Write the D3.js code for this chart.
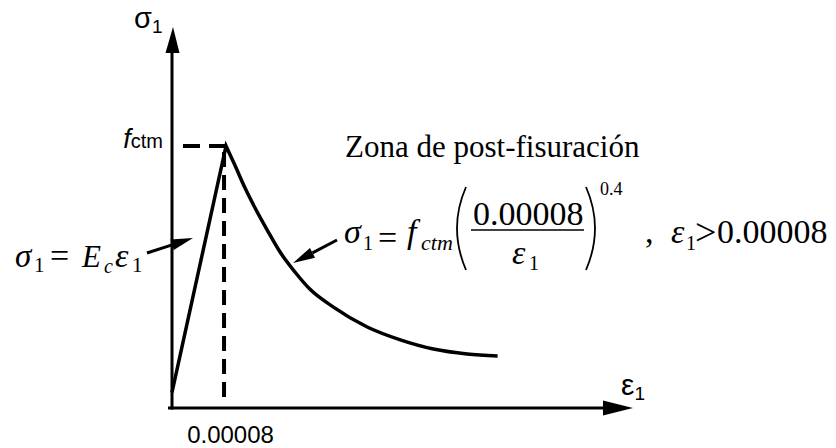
<!DOCTYPE html>
<html>
<head>
<meta charset="utf-8">
<script src="https://cdn.jsdelivr.net/npm/d3@7"></script>
<style>
  html, body { margin: 0; padding: 0; background: #fff; }
  svg { display: block; }
</style>
</head>
<body>
<script>
// Uniaxial tensile stress–strain law for concrete:
// linear branch up to the cracking strain, then post-cracking softening.
// Stresses are given as a fraction of fctm.
const crackStrain = 0.00008;

const risingStrain = [0, 0.00008];
const risingStress = [0.06, 1.0];

const softeningStrain = [0.00008, 0.000093, 0.000108, 0.000123, 0.000141, 0.00016,
  0.000182, 0.000204, 0.000239, 0.000289, 0.000338, 0.000387, 0.000437, 0.000482];
const softeningStress = [1.0, 0.927, 0.84, 0.763, 0.679, 0.595,
  0.519, 0.454, 0.385, 0.309, 0.26, 0.225, 0.206, 0.198];

const strainTicks = [0.00008];
const strainTickLabels = ["0.00008"];
const stressTicks = [1];

const strainMax = 0.000681;
const stressMax = 1.45;

const W = 836, H = 448;
const SANS = "'Liberation Sans', Arial, sans-serif";
const SERIF = "'Liberation Serif', 'Times New Roman', serif";

const svg = d3.select("body").append("svg")
  .attr("width", W).attr("height", H)
  .attr("viewBox", `0 0 ${W} ${H}`);

const x = d3.scaleLinear().domain([0, strainMax]).range([172, 632]);
const y = d3.scaleLinear().domain([0, stressMax]).range([408, 28]);

// ---- reference dashed lines at the cracking point ----
svg.append("line")
  .attr("x1", x(0) + 11).attr("x2", x(crackStrain))
  .attr("y1", y(1)).attr("y2", y(1))
  .attr("stroke", "#000").attr("stroke-width", 4)
  .attr("stroke-dasharray", "17,9");

svg.append("line")
  .attr("x1", x(crackStrain) - 2).attr("x2", x(crackStrain) - 2)
  .attr("y1", y(1) + 6).attr("y2", y(0) - 11)
  .attr("stroke", "#000").attr("stroke-width", 4)
  .attr("stroke-dasharray", "15,8");

// ---- axes ----
const xAxis = svg.append("g")
  .attr("transform", `translate(0,${y(0)})`)
  .call(d3.axisBottom(x)
    .tickValues(strainTicks)
    .tickSize(0).tickSizeOuter(0).tickPadding(18)
    .tickFormat((d, i) => strainTickLabels[i]));
xAxis.select(".domain").attr("stroke", "#000").attr("stroke-width", 3)
  .attr("d", `M${x(0) - 4},0H${x(strainMax) - 10}`);
xAxis.selectAll(".tick text")
  .attr("font-family", SANS).attr("font-size", 24)
  .attr("fill", "#000").attr("dx", 4);

const yAxis = svg.append("g")
  .attr("transform", `translate(${x(0)},0)`)
  .call(d3.axisLeft(y)
    .tickValues(stressTicks)
    .tickSize(0).tickSizeOuter(0).tickPadding(9)
    .tickFormat(() => ""));
yAxis.select(".domain").attr("stroke", "#000").attr("stroke-width", 3)
  .attr("d", `M0,${y(0) + 1.5}V${y(stressMax) + 12}`);
yAxis.selectAll(".tick text").each(function () {
  const t = d3.select(this).attr("dy", "0.14em").attr("font-family", SANS).attr("fill", "#000");
  t.append("tspan").attr("font-style", "italic").attr("font-size", 27).text("f");
  t.append("tspan").attr("font-size", 20).text("ctm");
});

// axis arrowheads
svg.append("path")
  .attr("d", `M${x(strainMax) + 1},${y(0)} L${x(strainMax) - 29},${y(0) - 7.5} L${x(strainMax) - 29},${y(0) + 7.5} Z`)
  .attr("fill", "#000");
svg.append("path")
  .attr("d", `M${x(0) + 1},${y(stressMax) - 1} L${x(0) - 6.5},${y(stressMax) + 25} L${x(0) + 7.5},${y(stressMax) + 25} Z`)
  .attr("fill", "#000");

// axis titles
const yTitle = svg.append("text").attr("font-family", SANS).attr("fill", "#000")
  .attr("x", 134).attr("y", 28);
yTitle.append("tspan").attr("font-size", 29).text("σ");
yTitle.append("tspan").attr("font-size", 19).attr("dy", 5).text("1");

const xTitle = svg.append("text").attr("font-family", SANS).attr("fill", "#000")
  .attr("x", 621).attr("y", 395);
xTitle.append("tspan").attr("font-size", 30).text("ε");
xTitle.append("tspan").attr("font-size", 19).attr("dy", 5).text("1");

// ---- stress–strain curve ----
const risePts = risingStrain.map((e, i) => [x(e), y(risingStress[i])]);
const softPts = softeningStrain.map((e, i) => [x(e), y(softeningStress[i])]);
const risePath = d3.line()(risePts);
const softPath = d3.line().curve(d3.curveMonotoneX)(softPts);
svg.append("path")
  .attr("d", risePath + softPath.replace(/^M/, "L"))
  .attr("fill", "none").attr("stroke", "#000")
  .attr("stroke-width", 3.5).attr("stroke-linejoin", "miter");

// ---- annotation arrows ----
function arrow(x1, y1, x2, y2, len, half) {
  const a = Math.atan2(y2 - y1, x2 - x1);
  const bx = x2 - len * Math.cos(a), by = y2 - len * Math.sin(a);
  svg.append("line").attr("x1", x1).attr("y1", y1).attr("x2", bx).attr("y2", by)
    .attr("stroke", "#000").attr("stroke-width", 3);
  const px = -Math.sin(a) * half, py = Math.cos(a) * half;
  svg.append("path")
    .attr("d", `M${x2},${y2} L${bx + px},${by + py} L${bx - px},${by - py} Z`)
    .attr("fill", "#000");
}
arrow(147, 253, 193, 238, 22, 5.5);
arrow(337, 240, 293, 263, 22, 5.5);

// ---- equations and labels ----
function put(txt, px, py, size, opts = {}) {
  return svg.append("text")
    .attr("x", px).attr("y", py)
    .attr("font-family", opts.family || SERIF)
    .attr("font-size", size)
    .attr("font-style", opts.italic ? "italic" : "normal")
    .attr("fill", "#000")
    .text(txt);
}

// linear branch: σ1 = Ec ε1
put("σ", 15, 267, 33, { italic: true });
put("1", 34, 272, 21);
put("=", 50, 267, 34);
put("E", 82, 267, 31, { italic: true });
put("c", 104, 273, 20, { italic: true });
put("ε", 115, 267, 34, { italic: true });
put("1", 132, 272, 21);

// softening branch
put("Zona de post-fisuración", 345, 157, 31);

const B = 250;
put("σ", 344, B - 7, 34, { italic: true });
put("1", 363, B, 20);
put("=", 378, B - 1, 34);
put("f", 407, B - 7, 34, { italic: true });
put("ctm", 421, B, 22, { italic: true });
put("0.00008", 473, 225, 34);
svg.append("line").attr("x1", 471).attr("x2", 584).attr("y1", 230).attr("y2", 230)
  .attr("stroke", "#000").attr("stroke-width", 1.6);
put("ε", 512, 264, 34, { italic: true });
put("1", 529, 270, 20);
svg.append("path").attr("d", "M466,187 Q448,228 466,270")
  .attr("fill", "none").attr("stroke", "#000").attr("stroke-width", 1.8);
svg.append("path").attr("d", "M586,187 Q604,228 586,270")
  .attr("fill", "none").attr("stroke", "#000").attr("stroke-width", 1.8);
put("0.4", 600, 195, 18);
put(",", 645, B - 7, 34);
put("ε", 671, B - 7, 34, { italic: true });
put("1", 686, B, 20);
put(">", 695, B - 5, 38);
put("0.00008", 717, B - 7, 34);
</script>
</body>
</html>
